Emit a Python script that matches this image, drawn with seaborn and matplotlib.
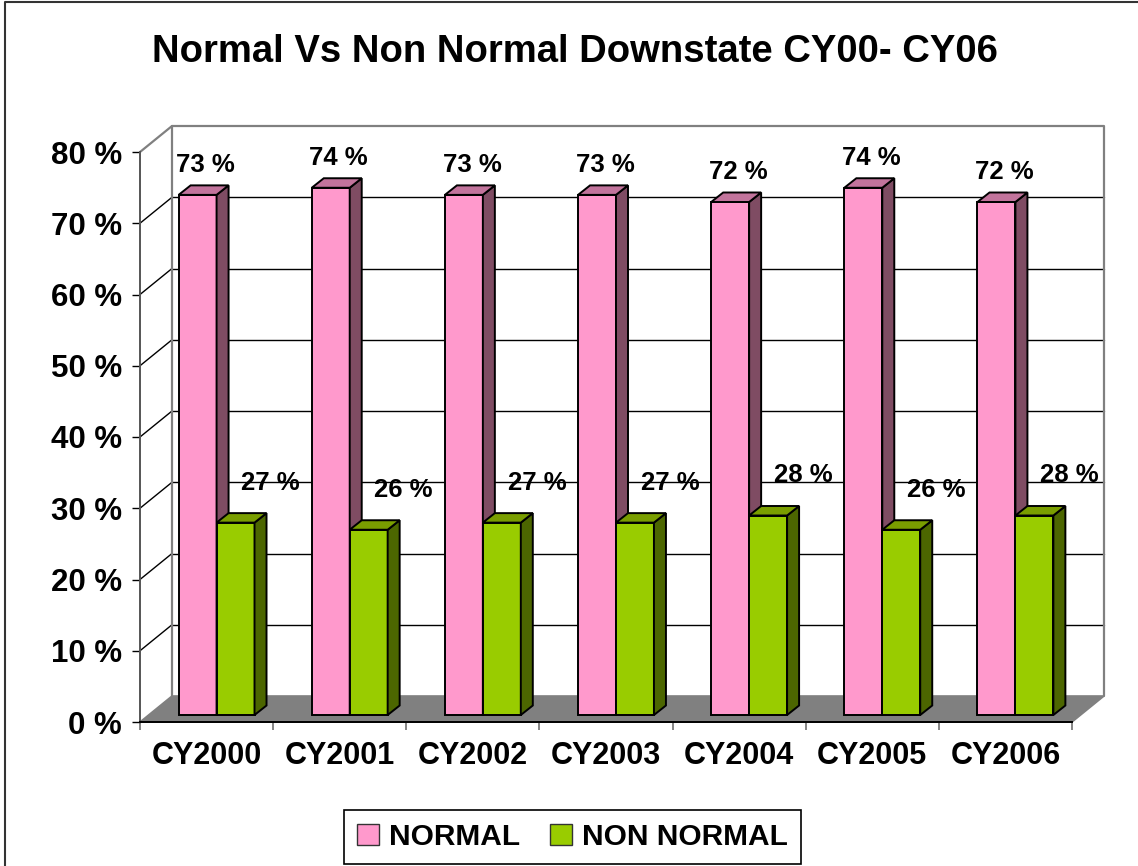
import numpy as np
import pandas as pd
import matplotlib
matplotlib.use("Agg")
import matplotlib.pyplot as plt
import seaborn as sns
from matplotlib.transforms import ScaledTranslation
from matplotlib.patches import Polygon, Patch
from matplotlib.lines import Line2D

# ---- data ----
years = ["CY2000", "CY2001", "CY2002", "CY2003", "CY2004", "CY2005", "CY2006"]
normal = [73, 74, 73, 73, 72, 74, 72]
non_normal = [27, 26, 27, 27, 28, 26, 28]
series = ["NORMAL", "NON NORMAL"]
y_ticks = [0, 10, 20, 30, 40, 50, 60, 70, 80]
title = "Normal Vs Non Normal Downstate CY00- CY06"

# ---- colours: front / top / side faces ----
face_colors = ["#FF99CC", "#99CC00"]
top_colors = ["#C2749C", "#7A9E00"]
side_colors = ["#7F4C63", "#4C6600"]
wall_gray = "#808080"

df = pd.DataFrame({
    "year": years * 2,
    "value": normal + non_normal,
    "series": [series[0]] * len(years) + [series[1]] * len(years),
})

sns.set_theme(style="white")
plt.rcParams["font.family"] = ["Liberation Sans", "DejaVu Sans"]
plt.rcParams["font.weight"] = "bold"
plt.rcParams["text.color"] = "black"

DPI = 100
W, H = 1138, 866
# front plane of the 3-D box, in pixels
X0, X1 = 140, 1072
Y0, Y80 = 722, 152

fig = plt.figure(figsize=(W / DPI, H / DPI), dpi=DPI)
fig.patch.set_facecolor("white")
ax = fig.add_axes([X0 / W, 1 - Y0 / H, (X1 - X0) / W, (Y0 - Y80) / H])

sns.barplot(data=df, x="year", y="value", hue="series", palette=face_colors,
            width=0.57, saturation=1, edgecolor="black", linewidth=1.4,
            legend=False, ax=ax)

ax.set_xlim(-0.5, len(years) - 0.5)
ax.set_ylim(0, 80)

# data units per pixel
ux = (len(years)) / (X1 - X0)
uy = 80 / (Y0 - Y80)


def shifted(px, py):
    return ax.transData + ScaledTranslation(px / DPI, py / DPI, fig.dpi_scale_trans)


bar_tr = shifted(10, 7)        # bars stand a little inside the box
back_dx, back_dy = 32 * ux, 26 * uy   # depth of the box
cap_dx, cap_dy = 12 * ux, 9.5 * uy    # depth of each bar
xl, xr = -0.5, len(years) - 0.5

# back wall gridlines and frame
for v in y_ticks[1:-1]:
    ax.plot([xl + back_dx, xr + back_dx], [v + back_dy, v + back_dy],
            color="black", lw=1.0, zorder=1, clip_on=False)
    ax.plot([xl, xl + back_dx], [v, v + back_dy],
            color="black", lw=1.0, zorder=1, clip_on=False)
ax.plot([xl, xl + back_dx, xr + back_dx, xr + back_dx],
        [80, 80 + back_dy, 80 + back_dy, back_dy],
        color=wall_gray, lw=1.6, zorder=1, clip_on=False)
ax.plot([xl + back_dx, xl + back_dx], [back_dy, 80 + back_dy],
        color=wall_gray, lw=1.6, zorder=1, clip_on=False)

# floor
floor = Polygon([(xl, 0), (xr, 0), (xr + back_dx, back_dy), (xl + back_dx, back_dy)],
                closed=True, facecolor=wall_gray, edgecolor=wall_gray, lw=1.2,
                zorder=1.2, clip_on=False)
ax.add_patch(floor)

# bars: shift front faces and add top / side faces
label_offsets = [(8, 30), (35, 40)]
for k, container in enumerate(ax.containers):
    z = 3 + k
    for rect in container:
        rect.set_transform(bar_tr)
        rect.set_zorder(z)
        rect.set_clip_on(False)
        x, w, h = rect.get_x(), rect.get_width(), rect.get_height()
        top = [(x, h), (x + w, h), (x + w + cap_dx, h + cap_dy), (x + cap_dx, h + cap_dy)]
        side = [(x + w, 0), (x + w, h), (x + w + cap_dx, h + cap_dy), (x + w + cap_dx, cap_dy)]
        for pts, col in ((side, side_colors[k]), (top, top_colors[k])):
            ax.add_patch(Polygon(pts, closed=True, facecolor=col, edgecolor="black",
                                 lw=1.4, transform=bar_tr, zorder=z, clip_on=False))
        ox, oy = label_offsets[k]
        ax.annotate(f"{h:.0f} %", xy=(x + w / 2, h), xycoords=bar_tr,
                    xytext=(ox * 0.72, oy * 0.72), textcoords="offset points",
                    ha="center", va="center", fontsize=18.5, fontweight="bold",
                    color="black", zorder=10, annotation_clip=False)

# axes, ticks and labels
ax.grid(False)
ax.set_xlabel("")
ax.set_ylabel("")
ax.set_yticks(y_ticks)
ax.set_yticklabels([f"{t} %" for t in y_ticks])
ax.set_xticks(range(len(years)))
ax.set_xticklabels(years)
ax.set_xticks(np.arange(-0.5, len(years), 1), minor=True)
ax.tick_params(axis="x", which="major", length=0, pad=13.5, labelsize=22)
ax.tick_params(axis="x", which="minor", length=6, width=1.2, color="#707070",
               direction="out", bottom=True)
ax.tick_params(axis="y", which="major", length=6, width=1.0, color="black",
               direction="out", left=True, pad=7, labelsize=22.5)
for lab in ax.get_xticklabels() + ax.get_yticklabels():
    lab.set_fontweight("bold")
    lab.set_color("black")
for s in ("top", "right"):
    ax.spines[s].set_visible(False)
ax.spines["left"].set_color("#555555")
ax.spines["left"].set_linewidth(1.4)
ax.spines["bottom"].set_color("black")
ax.spines["bottom"].set_linewidth(1.4)
ax.spines["left"].set_zorder(2)
ax.spines["bottom"].set_zorder(2)

# title
fig.text(575 / W, 1 - 52 / H, title, ha="center", va="center",
         fontsize=27.5, fontweight="bold", color="black")

# legend
handles = [Patch(facecolor=face_colors[i], edgecolor="#333333", lw=1.0) for i in range(2)]
leg = fig.legend(handles=handles, labels=series, loc="center",
                 bbox_to_anchor=(572.5 / W, 1 - 837 / H), ncol=2,
                 prop={"size": 21.5, "weight": "bold"}, labelcolor="black",
                 frameon=True, fancybox=False,
                 edgecolor="black", framealpha=1, handlelength=0.72, handleheight=0.72,
                 handletextpad=0.35, columnspacing=1.0, borderpad=0.45,
                 borderaxespad=0)
leg.get_frame().set_linewidth(1.2)

# chart area border
fig.add_artist(Line2D([5 / W, 5 / W, 1], [0, 1 - 2 / H, 1 - 2 / H],
                      transform=fig.transFigure, color="#333333", lw=1.5))

fig.savefig("out.png", dpi=DPI)
